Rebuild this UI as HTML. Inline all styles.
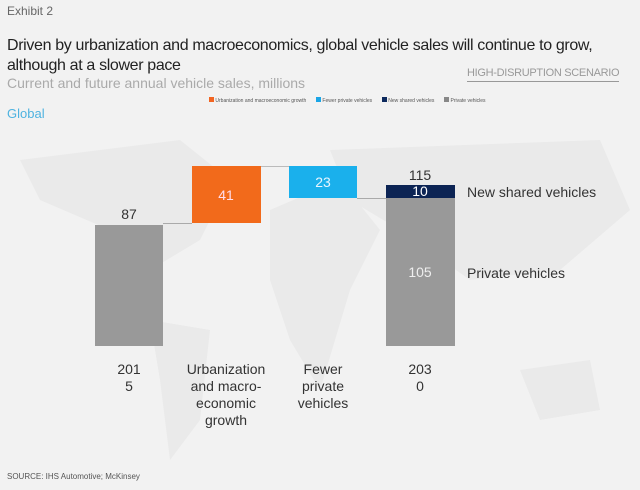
<!DOCTYPE html>
<html><head><style>
body{margin:0;width:640px;height:489px;background:#f2f2f2;font-family:"Liberation Sans",sans-serif;position:relative;overflow:hidden}
div{position:absolute;white-space:nowrap}
.b{position:absolute}
.c{text-align:center;width:80px;font-size:14px;color:#333;line-height:17px}
</style></head><body>
<svg style="position:absolute;left:0;top:120px" width="640" height="370">
<g fill="#eaeaea">
<path d="M20 40 L180 20 L230 60 L200 120 L150 150 L110 110 L40 80Z"/>
<path d="M150 200 L210 210 L200 300 L170 340 L160 260Z"/>
<path d="M270 90 L340 60 L380 110 L350 170 L320 270 L290 220 L270 160Z"/>
<path d="M330 30 L600 20 L630 90 L560 150 L470 160 L400 110 L350 80Z"/>
<path d="M520 250 L590 240 L600 290 L540 300Z"/>
</g></svg>
<div style="left:7px;top:4px;font-size:12px;color:#666">Exhibit 2</div>
<div style="left:7px;top:36px;font-size:16px;letter-spacing:-0.35px;color:#222;line-height:20px">Driven by urbanization and macroeconomics, global vehicle sales will continue to grow,<br>although at a slower pace</div>
<div style="left:7px;top:75px;font-size:14px;color:#aaa">Current and future annual vehicle sales, millions</div>
<div style="left:467px;top:67px;font-size:11px;color:#999;border-bottom:1px solid #999;padding-bottom:2px;letter-spacing:-0.3px">HIGH-DISRUPTION SCENARIO</div>
<div style="left:7px;top:106px;font-size:13px;color:#4fb3e0">Global</div>
<div style="left:209px;top:97px;font-size:5px;color:#555;line-height:7px"><span style="display:inline-block;width:5px;height:5px;background:#f26522"></span> Urbanization and macroeconomic growth &nbsp;&nbsp;&nbsp;&nbsp;&nbsp;&nbsp;<span style="display:inline-block;width:5px;height:5px;background:#1aa5e6"></span> Fewer private vehicles &nbsp;&nbsp;&nbsp;&nbsp;&nbsp;&nbsp;<span style="display:inline-block;width:5px;height:5px;background:#0d2a5e"></span> New shared vehicles &nbsp;&nbsp;&nbsp;&nbsp;&nbsp;&nbsp;<span style="display:inline-block;width:5px;height:5px;background:#888"></span> Private vehicles</div>
<div class="b" style="left:163px;top:223px;width:29px;height:1px;background:#aaa"></div>
<div class="b" style="left:261px;top:166px;width:28px;height:1px;background:#bbb"></div>
<div class="b" style="left:357px;top:198px;width:29px;height:1px;background:#aaa"></div>
<div class="b" style="left:95px;top:225px;width:68px;height:121px;background:#999"></div>
<div class="b" style="left:192px;top:166px;width:69px;height:57px;background:#f26a1b"></div>
<div class="b" style="left:289px;top:166px;width:68px;height:32px;background:#1ab0ec"></div>
<div class="b" style="left:386px;top:185px;width:69px;height:13px;background:#0c2454"></div>
<div class="b" style="left:386px;top:198px;width:69px;height:148px;background:#999"></div>
<div class="c" style="left:89px;top:206px">87</div>
<div class="c" style="left:186px;top:187px;color:#fde">41</div>
<div class="c" style="left:283px;top:174px;color:#e8f6ff">23</div>
<div class="c" style="left:380px;top:167px">115</div>
<div class="c" style="left:380px;top:183px;color:#fff">10</div>
<div class="c" style="left:380px;top:264px;color:#eee">105</div>
<div style="left:467px;top:184px;font-size:14px;color:#333">New shared vehicles</div>
<div style="left:467px;top:265px;font-size:14px;color:#333">Private vehicles</div>
<div class="c" style="left:89px;top:361px">201<br>5</div>
<div class="c" style="left:176px;top:361px;width:100px">Urbanization<br>and macro-<br>economic<br>growth</div>
<div class="c" style="left:283px;top:361px">Fewer<br>private<br>vehicles</div>
<div class="c" style="left:380px;top:361px">203<br>0</div>
<div style="left:7px;top:472px;font-size:8px;color:#555">SOURCE: IHS Automotive; McKinsey</div>
</body></html>
